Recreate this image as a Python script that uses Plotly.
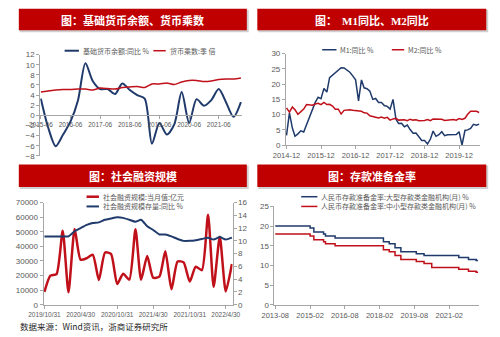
import plotly.graph_objects as go

W, H = 500, 337

# ---- 基础货币余额 / 货币乘数 (quarterly) ----
base_dates = ["2015-06-01", "2015-09-01", "2015-12-01", "2016-03-01", "2016-06-01", "2016-09-01",
              "2016-12-01", "2017-03-01", "2017-06-01", "2017-09-01", "2017-12-01", "2018-03-01",
              "2018-06-01", "2018-09-01", "2018-12-01", "2019-03-01", "2019-06-01", "2019-09-01",
              "2019-12-01", "2020-03-01", "2020-06-01", "2020-09-01", "2020-12-01", "2021-03-01",
              "2021-06-01", "2021-09-01", "2021-12-01", "2022-03-01"]
base_yoy = [3.3, -2.5, -6.1, -3.8, -1.2, 3.0, 10.3, 6.8, 5.2, 5.2, 4.2, 6.3,
            5.0, 4.0, 3.3, -5.6, -1.5, -3.8, -1.8, 4.6, -1.5, 3.2, 1.9, 3.0,
            5.2, 2.5, -0.3, 2.6]
multiplier = [4.6, 4.8, 5.0, 5.1, 5.1, 5.2, 5.2, 5.0, 5.4, 5.3, 5.2, 5.5,
              5.6, 5.7, 5.5, 6.2, 6.2, 6.4, 6.1, 6.6, 6.9, 6.9, 6.7, 6.8,
              7.1, 7.2, 7.2, 7.4]

# ---- M1 / M2 同比 (monthly, 2014-12 .. 2020-07) ----
m_dates = [f"{y}-{m:02d}-01" for y in range(2014, 2021) for m in range(1, 13)
           if (y, m) >= (2014, 12) and (y, m) <= (2020, 7)]
m1_yoy = [3.2, 10.6, 5.6, 2.9, 3.7, 4.7, 4.3, 6.6, 9.3, 11.4, 14.0, 15.7,
          15.2, 18.6, 17.4, 22.1, 22.9, 23.7, 24.6, 25.4, 25.3, 24.7, 23.9, 22.7,
          21.4, 14.5, 21.4, 18.8, 18.5, 17.7, 15.0, 15.3, 14.0, 14.0, 13.0, 12.7,
          11.8, 15.0, 8.5, 7.1, 7.2, 6.0, 6.6, 5.1, 3.9, 4.0, 2.7, 1.5,
          1.5, 0.4, 2.0, 4.6, 2.9, 3.4, 4.4, 3.1, 3.4, 3.4, 3.3, 3.5,
          4.4, 0.0, 4.8, 5.0, 5.5, 6.8, 6.5, 6.9]
m2_yoy = [12.2, 10.8, 12.5, 11.6, 10.1, 10.8, 11.8, 13.3, 13.3, 13.1, 13.5, 13.7,
          13.3, 14.0, 13.3, 13.4, 12.8, 11.8, 11.8, 10.2, 11.4, 11.5, 11.6, 11.4,
          11.3, 11.3, 11.1, 10.6, 10.5, 9.6, 9.4, 9.2, 8.9, 9.2, 8.8, 9.1,
          8.2, 8.6, 8.8, 8.2, 8.3, 8.3, 8.0, 8.5, 8.2, 8.3, 8.0, 8.0,
          8.1, 8.4, 8.0, 8.6, 8.5, 8.5, 8.5, 8.1, 8.2, 8.4, 8.4, 8.2,
          8.7, 8.4, 8.8, 10.1, 11.1, 11.1, 11.1, 10.7]

# ---- 社会融资规模 (monthly, month-end 2019-10 .. 2022-05) ----
tsf_dates = ["2019-10-31", "2019-11-30", "2019-12-31", "2020-01-31", "2020-02-29", "2020-03-31",
             "2020-04-30", "2020-05-31", "2020-06-30", "2020-07-31", "2020-08-31", "2020-09-30",
             "2020-10-31", "2020-11-30", "2020-12-31", "2021-01-31", "2021-02-28", "2021-03-31",
             "2021-04-30", "2021-05-31", "2021-06-30", "2021-07-31", "2021-08-31", "2021-09-30",
             "2021-10-31", "2021-11-30", "2021-12-31", "2022-01-31", "2022-02-28", "2022-03-31",
             "2022-04-30", "2022-05-31"]
tsf_flow = [8767, 19900, 21000, 50700, 8600, 51800, 30900, 31900, 34300, 16900, 35800, 34800,
            14200, 21300, 17200, 51700, 17100, 33400, 18500, 19200, 36700, 10600, 29600, 29000,
            15900, 26100, 23700, 61700, 12200, 46500, 9100, 27900]
tsf_stock_yoy = [10.7, 10.7, 10.7, 10.7, 10.7, 11.5, 12.0, 12.5, 12.8, 12.9, 13.3, 13.5,
                 13.7, 13.6, 13.3, 13.0, 13.3, 12.3, 11.7, 11.0, 11.0, 10.7, 10.3, 10.0,
                 10.0, 10.1, 10.3, 10.5, 10.2, 10.6, 10.2, 10.5]
tsf_ticks = ["2019-10-31", "2020-04-30", "2020-10-31", "2021-04-30", "2021-10-31", "2022-04-30"]
tsf_ticktext = ["2019/10/31", "2020/4/30", "2020/10/31", "2021/4/30", "2021/10/31", "2022/4/30"]

# ---- 存款准备金率 (effective dates of each level) ----
rrr_large_dates = ["2013-08-01", "2015-02-01", "2015-04-01", "2015-09-01", "2015-10-01",
                   "2016-03-01", "2018-04-01", "2018-07-01", "2018-10-01", "2019-01-01",
                   "2019-09-01", "2020-01-01", "2021-07-01", "2021-12-01", "2022-04-01", "2022-05-01"]
rrr_large = [20.0, 19.5, 18.5, 18.0, 17.5, 17.0, 16.0, 15.5, 14.5, 13.5, 13.0, 12.5,
             12.0, 11.5, 11.25, 11.25]
rrr_small_dates = ["2013-08-01", "2015-02-01", "2015-04-01", "2015-09-01", "2015-10-01",
                   "2016-03-01", "2018-04-01", "2018-07-01", "2018-10-01", "2019-01-01",
                   "2019-09-01", "2020-01-01", "2020-05-01", "2021-07-01", "2021-12-01",
                   "2022-04-01", "2022-05-01"]
rrr_small = [18.0, 17.5, 16.5, 16.0, 15.5, 15.0, 14.0, 13.5, 12.5, 11.5, 11.0, 10.5,
             9.5, 9.0, 8.5, 8.25, 8.25]

NAVY = "#1f3a6b"
RED = "#c0101a"
BANNER = "#c00000"
AXIS = "#a6a6a6"
TICK = "#595959"
FONT = "Noto Sans CJK SC"
SERIF = "Liberation Serif"


def px(x):
    return x / W


def py(y):
    return 1 - y / H


fig = go.Figure()

fig.add_trace(go.Scatter(x=base_dates, y=base_yoy, mode="lines",
                         line=dict(color=NAVY, width=2, shape="spline", smoothing=0.8),
                         xaxis="x", yaxis="y", showlegend=False))
fig.add_trace(go.Scatter(x=base_dates, y=multiplier, mode="lines",
                         line=dict(color=RED, width=1.5, shape="spline", smoothing=0.5),
                         xaxis="x", yaxis="y", showlegend=False))
fig.add_trace(go.Scatter(x=m_dates, y=m1_yoy, mode="lines", line=dict(color=NAVY, width=1.5),
                         xaxis="x2", yaxis="y2", showlegend=False))
fig.add_trace(go.Scatter(x=m_dates, y=m2_yoy, mode="lines", line=dict(color=RED, width=1.5),
                         xaxis="x2", yaxis="y2", showlegend=False))
fig.add_trace(go.Scatter(x=tsf_dates, y=tsf_flow, mode="lines",
                         line=dict(color=RED, width=2.5, shape="spline", smoothing=0.6),
                         xaxis="x3", yaxis="y3", showlegend=False))
fig.add_trace(go.Scatter(x=tsf_dates, y=tsf_stock_yoy, mode="lines",
                         line=dict(color=NAVY, width=2, shape="spline", smoothing=0.5),
                         xaxis="x3", yaxis="y5", showlegend=False))
fig.add_trace(go.Scatter(x=rrr_large_dates, y=rrr_large, mode="lines", line=dict(color=NAVY, width=1.5, shape="hv"),
                         xaxis="x4", yaxis="y4", showlegend=False))
fig.add_trace(go.Scatter(x=rrr_small_dates, y=rrr_small, mode="lines", line=dict(color=RED, width=1.5, shape="hv"),
                         xaxis="x4", yaxis="y4", showlegend=False))

tickfont = dict(family="Liberation Sans", size=8, color=TICK)
xtickfont = dict(family="Liberation Sans", size=7.5, color=TICK)
smallfont = dict(family="Liberation Sans", size=6.5, color=TICK)
common_y = dict(showgrid=False, zeroline=False, showline=True, linecolor=AXIS, linewidth=1,
                ticks="outside", ticklen=3, tickcolor=AXIS, tickfont=tickfont)
common_x = dict(showgrid=False, zeroline=False, showline=True, linecolor=AXIS, linewidth=1,
                ticks="outside", ticklen=3, tickcolor=AXIS, tickfont=xtickfont, type="date",
                tickangle=0)

fig.update_layout(
    width=W, height=H, margin=dict(l=0, r=0, t=0, b=0),
    paper_bgcolor="white", plot_bgcolor="rgba(0,0,0,0)",
    font=dict(family=FONT, color=TICK),
    xaxis=dict(common_x, domain=[px(26.5), px(238)], range=["2015-05-25", "2022-03-15"],
               anchor="free", position=py(114), tickformat="%Y-%m", dtick="M12", tick0="2015-06-01",
               tickfont=smallfont),
    yaxis=dict(common_y, domain=[py(156), py(52)], range=[-8, 12], dtick=2, anchor="x"),
    xaxis2=dict(common_x, domain=[px(284), px(487)], range=["2014-11-25", "2020-07-05"],
                anchor="y2", tickformat="%Y-%m", dtick="M12", tick0="2014-12-01"),
    yaxis2=dict(common_y, domain=[py(145), py(51)], range=[0, 30], dtick=5, anchor="x2"),
    xaxis3=dict(common_x, domain=[px(30), px(228)], range=["2019-10-27", "2022-06-03"],
                anchor="y3", tickvals=tsf_ticks, ticktext=tsf_ticktext, tickfont=smallfont),
    yaxis3=dict(common_y, domain=[py(309), py(204)], range=[0, 70000], dtick=10000, anchor="x3",
                tickformat="d"),
    yaxis5=dict(common_y, domain=[py(309), py(204)], range=[0, 16], dtick=2, anchor="x3",
                overlaying="y3", side="right"),
    xaxis4=dict(common_x, domain=[px(272), px(486)], range=["2013-07-20", "2022-05-10"],
                anchor="y4", tickformat="%Y-%m", dtick="M18", tick0="2013-08-01"),
    yaxis4=dict(common_y, domain=[py(309), py(208)], range=[0, 25], dtick=5, anchor="x4"),
)

shapes = []
annotations = []

# title banners with soft shadow
m_serif = lambda s: f"<span style='font-family:{SERIF}'>{s}</span>"
banners = [
    (4, 5, 243, 27, "图：基础货币余额、货币乘数"),
    (254, 5, 494, 27, f"图：  {m_serif('M1')}同比、{m_serif('M2')}同比"),
    (4, 165, 243, 188, "图：社会融资规模"),
    (254, 165, 494, 188, "图：存款准备金率"),
]
for x0, y0, x1, y1, title in banners:
    shapes.append(dict(type="rect", xref="paper", yref="paper", x0=px(x0 + 1), x1=px(x1 + 2),
                       y0=py(y1 + 2), y1=py(y0 + 1), fillcolor="rgba(120,120,120,0.35)",
                       line=dict(width=0), layer="below"))
    shapes.append(dict(type="rect", xref="paper", yref="paper", x0=px(x0), x1=px(x1),
                       y0=py(y1), y1=py(y0), fillcolor=BANNER, line=dict(width=0), layer="below"))
    annotations.append(dict(text=f"<b>{title}</b>", xref="paper", yref="paper", x=px((x0 + x1) / 2),
                            y=py((y0 + y1) / 2), xanchor="center", yanchor="middle", showarrow=False,
                            font=dict(family=FONT, size=11, color="white")))

# legend keys
legend_items = [
    (52, 67, 48, NAVY, 2, "基础货币余额:同比 %"),
    (145, 158, 48, RED, 1.5, "货币乘数:季 倍"),
    (322, 337, 47, NAVY, 1.5, "M1:同比 %"),
    (395, 408, 47, RED, 1.5, "M2:同比 %"),
    (75, 88, 198, RED, 2.5, "社会融资规模:当月值:亿元"),
    (75, 88, 208, NAVY, 2, "社会融资规模存量:同比 %"),
    (300, 317, 198, NAVY, 1.5, "人民币存款准备金率:大型存款类金融机构(月) %"),
    (300, 317, 208, RED, 1.5, "人民币存款准备金率:中小型存款类金融机构(月) %"),
]
for x0, x1, y, color, w, label in legend_items:
    shapes.append(dict(type="line", xref="paper", yref="paper", x0=px(x0), x1=px(x1), y0=py(y), y1=py(y),
                       line=dict(color=color, width=w)))
    annotations.append(dict(text=label, xref="paper", yref="paper", x=px(x1 + 2), y=py(y), xanchor="left",
                            yanchor="middle", showarrow=False, font=dict(family=FONT, size=7, color=TICK)))

# source note
annotations.append(dict(text="数据来源：Wind资讯，浙商证券研究所", xref="paper", yref="paper", x=px(3), y=py(331),
                        xanchor="left", yanchor="middle", showarrow=False,
                        font=dict(family=FONT, size=8.5, color="#262626")))

fig.update_layout(shapes=shapes, annotations=annotations)
fig.write_html("out.html")
